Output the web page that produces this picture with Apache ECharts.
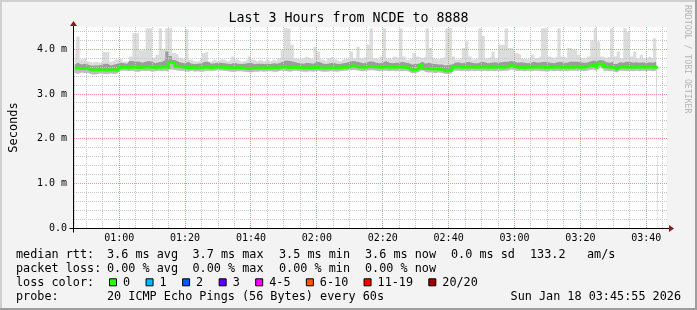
<!DOCTYPE html>
<html><head><meta charset="utf-8">
<script src="https://cdn.jsdelivr.net/npm/echarts@6/dist/echarts.min.js"></script>
<style>html,body{margin:0;padding:0;background:#f3f3f3}#c{width:697px;height:310px}</style>
</head><body><div id="c"></div>
<script>
// ---------------- data ----------------
const startMinute = 46;                 // first one-minute column (00:46-00:47)
const viewStart = 46 + 17 / 60;         // left edge of the plot (00:46:17)
const viewEnd = viewStart + 180;        // 3 hours later
const tickMinutes = [60, 80, 100, 120, 140, 160, 180, 200, 220];
const tickLabels = ['01:00', '01:20', '01:40', '02:00', '02:20', '02:40', '03:00', '03:20', '03:40'];

// median RTT per minute (ms)
const medianRtt = [
  3.58,3.58,3.57,3.57,3.58,3.54,3.54,3.55,3.54,3.54,3.53,3.55,3.54,3.53,
  3.60,3.60,3.59,3.60,3.60,3.59,3.60,3.60,3.61,3.60,3.59,3.60,3.60,3.61,3.60,
  3.71,3.68,3.62,3.61,
  3.60,3.59,3.60,3.58,3.58,3.59,3.60,3.60,3.59,3.60,3.61,3.60,
  3.60,3.59,3.58,3.58,3.59,3.59,3.58,3.57,3.57,3.58,3.58,3.59,3.58,3.58,3.59,3.59,3.58,3.60,3.61,3.60,3.59,3.60,3.60,3.59,3.58,3.58,3.59,3.59,3.60,3.59,3.58,3.58,3.59,3.59,3.58,3.59,3.60,3.60,3.61,3.63,3.62,3.60,3.60,3.60,3.62,
  3.61,3.61,3.60,3.60,3.61,3.60,3.60,3.60,3.61,3.60,3.60,3.58,3.54,3.54,3.57,3.63,3.57,3.57,3.56,3.56,3.56,3.55,3.52,3.52,3.53,3.60,3.61,3.60,3.60,3.60,3.61,3.60,3.60,3.60,3.61,3.60,3.60,3.60,3.61,3.60,3.60,3.61,3.64,3.62,3.60,
  3.60,3.59,3.60,3.60,3.60,3.61,3.60,3.60,3.59,3.60,3.60,3.61,3.60,3.60,3.60,3.60,3.60,3.61,3.60,3.60,3.61,3.63,3.64,3.60,3.67,3.66,3.61,3.60,3.60,3.56,3.60,3.61,3.60,3.60,3.60,3.60,3.61,3.60,3.60,3.61,3.60,3.60,3.60
];
// lowest ping of each minute (ms)
const smokeMin = [
  3.47,3.45,3.48,3.47,3.47,3.44,3.43,3.45,3.46,3.45,3.44,3.46,3.45,3.46,
  3.52,3.52,3.51,3.52,3.50,3.50,3.52,3.51,3.52,3.50,3.51,3.52,3.51,3.52,3.50,3.55,3.54,3.52,3.52,3.51,3.50,3.52,3.50,3.51,3.49,3.51,3.52,3.51,3.52,3.53,3.52,
  3.52,3.51,3.50,3.49,3.51,3.51,3.50,3.49,3.48,3.50,3.50,3.51,3.50,3.51,3.51,3.50,3.50,3.52,3.52,3.51,3.50,3.52,3.52,3.51,3.50,3.50,3.51,3.50,3.52,3.51,3.50,3.50,3.51,3.51,3.50,3.51,3.52,3.52,3.53,3.54,3.53,3.52,3.51,3.52,3.53,
  3.53,3.52,3.51,3.52,3.52,3.51,3.52,3.51,3.52,3.51,3.52,3.50,3.46,3.47,3.49,3.53,3.49,3.48,3.48,3.47,3.48,3.47,3.45,3.45,3.46,3.52,3.52,3.51,3.52,3.51,3.52,3.51,3.52,3.51,3.52,3.51,3.52,3.51,3.52,3.51,3.52,3.52,3.55,3.53,3.51,
  3.52,3.51,3.52,3.51,3.52,3.52,3.51,3.51,3.50,3.52,3.51,3.52,3.51,3.52,3.51,3.52,3.52,3.52,3.52,3.51,3.52,3.54,3.55,3.51,3.58,3.57,3.52,3.51,3.51,3.48,3.52,3.52,3.51,3.52,3.51,3.52,3.51,3.52,3.51,3.52,3.51,3.52,3.52
];
// upper edge of the dense (dark) smoke (ms)
const smokeMid = [
  3.66,3.70,3.66,3.68,3.66,3.63,3.64,3.64,3.65,3.68,3.68,3.64,3.66,3.68,
  3.70,3.69,3.68,3.74,3.72,3.73,3.70,3.72,3.74,3.72,3.69,3.71,3.72,3.76,3.95,3.85,3.76,3.72,3.70,3.69,3.72,3.68,3.67,3.68,3.69,3.72,3.72,3.68,3.69,3.70,3.70,
  3.69,3.68,3.67,3.70,3.68,3.67,3.68,3.69,3.70,3.67,3.68,3.68,3.67,3.68,3.67,3.69,3.68,3.70,3.74,3.75,3.74,3.72,3.70,3.69,3.68,3.70,3.69,3.68,3.72,3.71,3.68,3.67,3.69,3.70,3.68,3.67,3.69,3.70,3.72,3.74,3.73,3.71,3.69,3.70,3.73,
  3.73,3.70,3.69,3.70,3.74,3.70,3.69,3.70,3.70,3.72,3.70,3.69,3.66,3.67,3.68,3.72,3.68,3.70,3.68,3.67,3.66,3.66,3.64,3.65,3.66,3.70,3.71,3.69,3.70,3.72,3.70,3.69,3.69,3.72,3.71,3.69,3.70,3.71,3.70,3.71,3.72,3.72,3.74,3.72,3.70,
  3.71,3.70,3.69,3.70,3.72,3.70,3.71,3.72,3.71,3.70,3.69,3.71,3.72,3.70,3.70,3.73,3.72,3.72,3.71,3.70,3.70,3.73,3.75,3.74,3.76,3.75,3.71,3.70,3.72,3.67,3.71,3.70,3.72,3.72,3.70,3.71,3.70,3.71,3.69,3.71,3.70,3.72,3.72
];
// highest ping of each minute (ms)
const smokeMax = [
  3.73,4.29,3.77,3.80,3.73,3.70,3.73,3.70,3.73,3.94,3.94,3.73,3.77,3.77,
  3.79,3.73,3.73,3.84,4.36,4.36,3.98,3.99,4.47,4.47,3.81,3.88,4.47,4.00,4.47,4.47,3.92,3.88,3.81,3.77,4.45,3.77,3.73,3.73,3.77,3.92,3.95,3.73,3.77,3.73,3.77,
  3.77,3.73,3.77,3.84,3.77,3.73,3.73,3.77,3.84,3.77,3.73,3.77,3.73,3.77,3.73,3.77,3.73,3.80,3.98,4.47,4.47,4.10,3.80,3.77,3.80,3.84,3.80,3.77,4.05,3.95,3.77,3.73,3.80,3.84,3.77,3.73,3.77,3.80,3.77,3.95,3.80,4.06,3.80,3.84,4.10,
  4.47,3.80,3.77,3.84,4.47,3.80,3.77,3.84,3.80,4.47,3.84,3.77,3.80,3.92,3.84,3.80,3.84,4.47,4.03,3.80,3.77,3.80,3.84,4.47,4.47,3.84,3.77,3.80,4.03,4.18,3.84,3.77,3.80,4.47,4.30,3.80,3.84,3.95,3.80,4.10,4.10,4.47,4.03,4.00,3.92,
  3.88,3.80,3.77,3.80,3.88,3.80,3.84,4.47,4.47,3.84,3.80,3.84,4.47,3.84,3.80,4.03,3.99,3.99,3.88,3.80,3.77,3.84,4.20,4.47,4.18,3.84,3.80,3.84,4.47,3.84,3.95,3.80,4.47,4.40,3.84,3.95,3.80,3.88,3.80,3.84,3.80,4.25,4.47
];

// legend texts
const rttStats = ['3.6 ms avg', '3.7 ms max', '3.5 ms min', '3.6 ms now', '0.0 ms sd', '133.2', 'am/s'];
const lossStats = ['0.00 % avg', '0.00 % max', '0.00 % min', '0.00 % now'];
const lossLabels = ['0', '1', '2', '3', '4-5', '6-10', '11-19', '20/20'];
const lossColors = ['#26ff00', '#00b8ff', '#0059ff', '#5e00ff', '#ff00ff', '#ff5500', '#ff0000', '#a10000'];
const probeText = '20 ICMP Echo Pings (56 Bytes) every 60s';
const dateText = 'Sun Jan 18 03:45:55 2026';
const titleText = 'Last 3 Hours from NCDE to 8888';

// ---------------- chart ----------------
const mono = '"DejaVu Sans Mono", monospace';
const sampleTimes = medianRtt.map((_, i) => startMinute + i + 0.5);
const pairs = arr => arr.map((v, i) => [sampleTimes[i], v]);

// areas are filled from the axis; later ones mask the lower part of earlier ones
function area(name, data, color) {
  return {type: 'line', name, data: pairs(data), step: 'middle',
    showSymbol: false, symbol: 'none', lineStyle: {width: 0, opacity: 0}, z: 2, silent: true,
    areaStyle: {color, opacity: 1, origin: 'start'}};
}

const chart = echarts.init(document.getElementById('c'), null, {renderer: 'canvas', width: 697, height: 310});
chart.setOption({
  animation: false,
  backgroundColor: '#f3f3f3',
  title: {text: titleText, left: 'center', top: 12, padding: 0,
    textStyle: {fontFamily: mono, fontSize: 13.3, fontWeight: 'normal', color: '#000'}},
  grid: {left: 67, right: 30, top: 27, bottom: 82, containLabel: false,
    show: true, backgroundColor: '#ffffff', borderWidth: 0},
  xAxis: {type: 'value', min: viewStart, max: viewEnd,
    axisLine: {show: false}, axisTick: {show: false}, splitLine: {show: false},
    axisLabel: {customValues: tickMinutes, formatter: v => tickLabels[tickMinutes.indexOf(v)],
      fontFamily: mono, fontSize: 10, color: '#000', margin: 5}},
  yAxis: {type: 'value', min: 0, max: 4.5, interval: 1,
    name: 'Seconds', nameLocation: 'middle', nameGap: 54,
    nameTextStyle: {fontFamily: mono, fontSize: 12, color: '#000'},
    axisLine: {show: false}, axisTick: {show: false}, splitLine: {show: false},
    axisLabel: {showMaxLabel: false, formatter: v => v === 0 ? '0.0' : v.toFixed(1) + ' m',
      fontFamily: mono, fontSize: 10, color: '#000', margin: 7}},
  series: [
    area('max', smokeMax, '#dcdcdc'),
    area('dense', smokeMid, '#9c9c9c'),
    area('median-fill', medianRtt, '#bdbdbd'),
    area('min', smokeMin, '#ffffff'),
    {type: 'line', name: 'median', data: pairs(medianRtt), step: 'middle', showSymbol: false, symbol: 'none',
      lineStyle: {color: '#26ff00', width: 3, cap: 'butt', join: 'miter'}, z: 6, silent: true}
  ]
});

// decorations positioned through the axes
const toPx = (xv, yv) => chart.convertToPixel({gridIndex: 0}, [xv, yv]);
const p0 = toPx(viewStart, 0);
const p1 = toPx(viewEnd, 4.5);
const x0 = Math.round(p0[0]) - 0.5, y0 = Math.round(p0[1]) + 0.5, x1 = p1[0], y1 = p1[1];
const g = [];
// grid lines (dotted, above the smoke, below the median line)
const minorColor = '#c8c8c8', majorColor = '#f09090';
for (let m = 50; m < viewEnd; m += 5) {
  if (m <= viewStart) continue;
  const px = Math.floor(toPx(m, 0)[0]) + 0.5;
  g.push({type: 'line', silent: true, z: 4, shape: {x1: px, y1: y1, x2: px, y2: y0 - 0.5},
    style: {stroke: m % 20 === 0 ? majorColor : minorColor, lineWidth: 1, lineDash: [1, 1]}});
}
for (let k = 1; k <= 22; k++) {
  const v = +(k * 0.2).toFixed(1);
  const py = Math.floor(toPx(viewStart, v)[1]) + 0.5;
  g.push({type: 'line', silent: true, z: 4, shape: {x1: x0 + 0.5, y1: py, x2: x1, y2: py},
    style: {stroke: k % 5 === 0 ? majorColor : minorColor, lineWidth: 1, lineDash: [1, 1]}});
}
const txt = (text, x, y, extra) => g.push(Object.assign({type: 'text', silent: true, z: 100,
  style: Object.assign({text, x, y, fill: '#000', font: '11.8px ' + mono, verticalAlign: 'middle', align: 'left'}, extra || {})}));
// frame
g.push({type: 'line', silent: true, z: 100, shape: {x1: 0, y1: 1, x2: 697, y2: 1}, style: {stroke: '#cfcfcf', lineWidth: 2}});
g.push({type: 'line', silent: true, z: 100, shape: {x1: 1, y1: 0, x2: 1, y2: 310}, style: {stroke: '#cfcfcf', lineWidth: 2}});
g.push({type: 'line', silent: true, z: 100, shape: {x1: 0, y1: 309, x2: 697, y2: 309}, style: {stroke: '#9e9e9e', lineWidth: 2}});
g.push({type: 'line', silent: true, z: 100, shape: {x1: 696, y1: 0, x2: 696, y2: 310}, style: {stroke: '#9e9e9e', lineWidth: 2}});
// axes
g.push({type: 'line', silent: true, z: 90, shape: {x1: x0 - 4, y1: y0, x2: x1 + 3, y2: y0}, style: {stroke: '#000', lineWidth: 1}});
g.push({type: 'line', silent: true, z: 90, shape: {x1: x0, y1: y0 + 4, x2: x0, y2: y1 - 1}, style: {stroke: '#000', lineWidth: 1}});
g.push({type: 'polygon', silent: true, z: 91, shape: {points: [[x1 + 2, y0 - 3.5], [x1 + 7, y0], [x1 + 2, y0 + 3.5]]}, style: {fill: '#8b1a1a'}});
g.push({type: 'polygon', silent: true, z: 91, shape: {points: [[x0 - 3.5, y1 - 1], [x0, y1 - 6], [x0 + 3.5, y1 - 1]]}, style: {fill: '#8b1a1a'}});
// watermark
g.push({type: 'text', silent: true, z: 100, x: 687, y: 5, rotation: -Math.PI / 2,
  style: {text: 'RRDTOOL / TOBI OETIKER', x: 0, y: 0, fill: '#b4b4b4', font: '8.2px ' + mono, align: 'left', verticalAlign: 'middle'}});
// legend rows
const rowY = [254.5, 268.5, 282.8, 297];
const colX = [107, 192.5, 279, 365, 451, 530, 587];
txt('median rtt:', 16, rowY[0]);
rttStats.forEach((s, i) => txt(s, colX[i], rowY[0]));
txt('packet loss:', 16, rowY[1]);
lossStats.forEach((s, i) => txt(s, colX[i], rowY[1]));
txt('loss color:', 16, rowY[2]);
let bx = 109.5;
lossLabels.forEach((lab, i) => {
  g.push({type: 'rect', silent: true, z: 100, shape: {x: bx, y: rowY[2] - 4, width: 7, height: 7},
    style: {fill: lossColors[i], stroke: '#000', lineWidth: 1}});
  txt(lab, bx + 13.5, rowY[2]);
  bx += 29.5 + 7.05 * lab.length;
});
txt('probe:', 16, rowY[3]);
txt(probeText, 107, rowY[3]);
txt(dateText, 681, rowY[3], {align: 'right'});
chart.setOption({graphic: {elements: g}});
</script></body></html>
